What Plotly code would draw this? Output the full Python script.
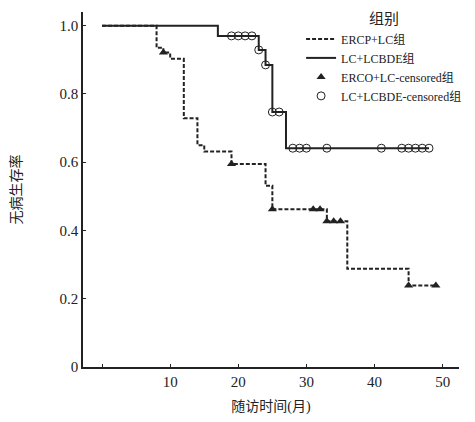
import plotly.graph_objects as go

# ---- data ----
ercp_t = [0, 8, 9, 10, 12, 14, 15, 19, 24, 25, 33, 36, 45, 49]
ercp_s = [1.0, 0.935, 0.921, 0.903, 0.729, 0.650, 0.631, 0.595, 0.531, 0.462, 0.427, 0.288, 0.239, 0.239]
ercp_cens_t = [9, 19, 25, 31, 32, 33, 34, 35, 45, 49]
ercp_cens_s = [0.921, 0.595, 0.462, 0.462, 0.462, 0.427, 0.427, 0.427, 0.239, 0.239]

lcbde_t = [0, 17, 23, 24, 25, 27, 48]
lcbde_s = [1.0, 0.970, 0.929, 0.885, 0.747, 0.641, 0.641]
lcbde_cens_t = [19, 20, 21, 22, 23, 24, 25, 26, 28, 29, 30, 33, 41, 44, 45, 46, 47, 48]
lcbde_cens_s = [0.970, 0.970, 0.970, 0.970, 0.929, 0.885, 0.747, 0.747,
                0.641, 0.641, 0.641, 0.641, 0.641, 0.641, 0.641, 0.641, 0.641, 0.641]

x_ticks = [0, 10, 20, 30, 40, 50]
x_ticktext = ["", "10", "20", "30", "40", "50"]
y_ticks = [0, 0.2, 0.4, 0.6, 0.8, 1.0]
y_ticktext = ["0", "0.2", "0.4", "0.6", "0.8", "1.0"]

names = ["ERCP+LC组", "LC+LCBDE组", "ERCO+LC-censored组", "LC+LCBDE-censored组"]

FONT = "Liberation Serif, Times New Roman, Noto Sans CJK SC, serif"
INK = "#222222"

fig = go.Figure()
fig.add_trace(go.Scatter(x=ercp_t, y=ercp_s, mode="lines", name=names[0],
                         line=dict(shape="hv", color=INK, width=2, dash="4px,2px")))
fig.add_trace(go.Scatter(x=lcbde_t, y=lcbde_s, mode="lines", name=names[1],
                         line=dict(shape="hv", color=INK, width=2)))
fig.add_trace(go.Scatter(x=ercp_cens_t, y=ercp_cens_s, mode="markers", name=names[2],
                         marker=dict(symbol="triangle-up", size=8, color=INK)))
fig.add_trace(go.Scatter(x=lcbde_cens_t, y=lcbde_cens_s, mode="markers", name=names[3],
                         marker=dict(symbol="circle-open", size=8, color=INK,
                                     line=dict(width=1, color=INK))))

# page body has an 8px margin, so the figure is sized/offset to compensate
fig.update_layout(
    width=467, height=414,
    margin=dict(l=75, r=16, t=4, b=55, autoexpand=False),
    paper_bgcolor="white", plot_bgcolor="white",
    font=dict(family=FONT, size=15, color=INK),
    legend=dict(
        x=0.58, y=1.02, xanchor="left", yanchor="top",
        bgcolor="rgba(0,0,0,0)",
        font=dict(family=FONT, size=12, color=INK),
        title=dict(text="组别", side="top center", font=dict(family=FONT, size=15, color=INK)),
        itemwidth=30, tracegroupgap=0,
    ),
    xaxis=dict(
        range=[-2.8, 52.4], tickvals=x_ticks, ticktext=x_ticktext,
        showline=True, linecolor=INK, linewidth=1.5, ticks="inside", ticklen=3,
        tickcolor=INK, showgrid=False, zeroline=False, automargin=False,
        tickfont=dict(size=15),
        title=dict(text="随访时间(月)", font=dict(family=FONT, size=14), standoff=12),
    ),
    yaxis=dict(
        range=[0, 1.04], tickvals=y_ticks, ticktext=y_ticktext,
        showline=True, linecolor=INK, linewidth=1.5, ticks="inside", ticklen=3,
        tickcolor=INK, showgrid=False, zeroline=False, automargin=False,
        tickfont=dict(size=15),
        title=dict(text="无病生存率", font=dict(family=FONT, size=14), standoff=43),
    ),
)

fig.write_html("out.html")
